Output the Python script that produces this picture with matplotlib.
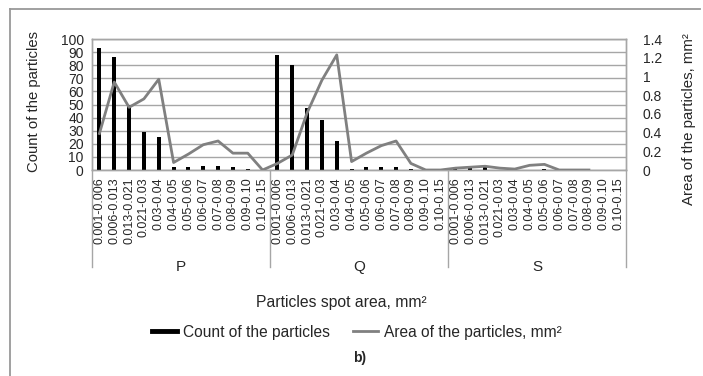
"""Particle count and area by spot-area class for samples P, Q and S."""

import matplotlib

matplotlib.use("Agg")
import matplotlib.pyplot as plt
import matplotlib.transforms as mtransforms
import numpy as np

plt.rcParams["font.family"] = ["Liberation Sans", "DejaVu Sans"]

groups = ["P", "Q", "S"]
classes = [
    "0.001-0.006", "0.006-0.013", "0.013-0.021", "0.021-0.03",
    "0.03-0.04", "0.04-0.05", "0.05-0.06", "0.06-0.07",
    "0.07-0.08", "0.08-0.09", "0.09-0.10", "0.10-0.15",
]

count_p = [93, 86, 50, 29, 25, 2, 2, 3, 3, 2, 1, 0]
count_q = [88, 80, 47, 38, 22, 1, 2, 2, 2, 1, 0, 0]
count_s = [1, 2, 2, 0, 0, 0, 1, 0, 0, 0, 0, 0]

area_p = [0.39, 0.94, 0.67, 0.76, 0.97, 0.08, 0.17, 0.27, 0.31, 0.18, 0.18, 0.0]
area_q = [0.07, 0.16, 0.61, 0.96, 1.23, 0.09, 0.18, 0.26, 0.31, 0.07, 0.0, 0.0]
area_s = [0.02, 0.03, 0.04, 0.02, 0.01, 0.05, 0.06, 0.0, 0.0, 0.0, None, None]

TEXT = "#262626"
GRID = "#a6a6a6"


def main() -> None:
    counts = np.array(count_p + count_q + count_s, dtype=float)
    areas = np.array(
        [np.nan if v is None else v for v in area_p + area_q + area_s], dtype=float
    )
    x = np.arange(len(counts))
    n = len(classes)

    fig = plt.figure(figsize=(7.03, 3.76), dpi=100)
    ax = fig.add_axes([92 / 703, 1 - 170 / 376, 534 / 703, 131 / 376])
    ax2 = ax.twinx()

    ax.bar(x, counts, width=0.28, color="black", zorder=3,
           label="Count of the particles")
    ax2.plot(x, areas, color="#808080", lw=2.0, zorder=4,
             label="Area of the particles, mm\u00b2")

    ax.set_xlim(-0.5, len(counts) - 0.5)
    ax.set_ylim(0, 100)
    ax2.set_ylim(0, 1.4)
    ax.set_yticks(np.arange(0, 101, 10))
    ax2.set_yticks(np.arange(0, 1.41, 0.2))
    ax2.set_yticklabels([f"{v:g}" for v in np.round(np.arange(0, 1.41, 0.2), 1)])
    ax.yaxis.grid(True, color=GRID, lw=1.0, zorder=0)
    ax.set_axisbelow(True)

    ax.set_xticks(x)
    ax.set_xticklabels(classes * len(groups), rotation=90, fontsize=9)
    ax.tick_params(axis="x", length=0, pad=5, colors=TEXT)
    ax.tick_params(axis="y", length=0, pad=6, labelsize=10, colors=TEXT)
    ax2.tick_params(axis="y", length=0, pad=12, labelsize=10, colors=TEXT)

    for a in (ax, ax2):
        for s in a.spines.values():
            s.set_color(GRID)
            s.set_linewidth(1.0)

    ax.set_ylabel("Count of the particles", fontsize=10.7, color=TEXT)
    ax.yaxis.set_label_coords(-0.095, 0.52)
    ax2.set_ylabel("Area of the particles, mm\u00b2", fontsize=10.8, color=TEXT)
    ax2.yaxis.set_label_coords(1.105, 0.39)

    # group separators and labels under the category ticks
    trans = mtransforms.blended_transform_factory(ax.transData, fig.transFigure)
    y_axis = 1 - 170 / 376
    y_sep = 1 - 267 / 376
    for i in range(len(groups) + 1):
        xs = i * n - 0.5
        ax.plot([xs, xs], [y_axis, y_sep], transform=trans, color=GRID,
                lw=1.0, clip_on=False)
    for i, g in enumerate(groups):
        ax.text(i * n + (n - 1) / 2, 1 - 267 / 376, g, transform=trans,
                ha="center", va="center", fontsize=11, color=TEXT)

    fig.text(341 / 703, 1 - 303 / 376, "Particles spot area, mm\u00b2",
             ha="center", va="center", fontsize=11.3, color=TEXT)

    h2, l2 = ax2.get_legend_handles_labels()
    bar_handle = plt.Line2D([], [], color="black", lw=3.5)
    fig.legend([bar_handle] + h2, ["Count of the particles"] + l2, loc="center",
               bbox_to_anchor=(357 / 703, 1 - 332 / 376), ncol=2, frameon=False,
               fontsize=11.2, handlelength=1.6, handletextpad=0.4,
               columnspacing=1.5, labelcolor=TEXT)

    fig.text(360 / 703, 1 - 358 / 376, "b)", ha="center", va="center",
             fontsize=10, fontweight="bold", color=TEXT)

    # outer frame (cropped at right and bottom)
    fig.add_artist(plt.Line2D([10 / 703, 10 / 703], [0, 1 - 9 / 376],
                              transform=fig.transFigure, color="#999999", lw=1.3))
    fig.add_artist(plt.Line2D([10 / 703, 700 / 703], [1 - 9 / 376, 1 - 9 / 376],
                              transform=fig.transFigure, color="#999999", lw=1.3))

    fig.savefig("out.png", dpi=100)
    plt.close(fig)


if __name__ == "__main__":
    main()
